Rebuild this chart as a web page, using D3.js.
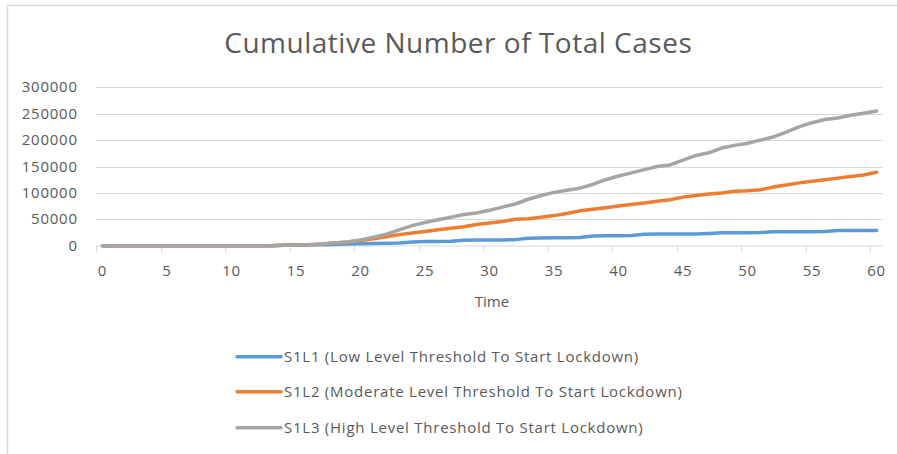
<!DOCTYPE html>
<html><head><meta charset="utf-8">
<script src="https://cdn.jsdelivr.net/npm/d3@7"></script>
<style>html,body{margin:0;padding:0;background:#fff;}svg{display:block;}</style>
</head><body><svg id="c" width="897" height="454"></svg>
<script>
const days = d3.range(0, 61);
const xTickLabels = [0,5,10,15,20,25,30,35,40,45,50,55,60];
const yTicks = [0,50000,100000,150000,200000,250000,300000];
const seriesNames = ["S1L1 (Low Level Threshold To Start Lockdown)","S1L2 (Moderate Level Threshold To Start Lockdown)","S1L3 (High Level Threshold To Start Lockdown)"];
const s1l1 = [0,0,0,0,0,0,0,0,0,0,0,0,0,0,1000,1500,2000,2000,2500,3000,3500,4000,4500,5000,7000,8000,8000,8500,10500,11000,11000,11000,11500,14000,14500,15000,15000,15500,18500,19000,19000,19500,21500,22000,22000,22000,22000,23000,24500,24500,24500,25000,26500,26500,26500,26500,27000,29000,29000,29000,29000];
const s1l2 = [0,0,0,0,0,0,0,0,0,0,0,0,0,0,1000,1500,2000,3000,5000,7000,10000,13000,17000,21000,24000,27000,30000,33000,36000,40000,43000,46000,50000,51000,54000,57000,61000,66000,69000,72000,75000,78000,81000,84000,87000,92000,95000,98000,100000,103000,104000,106000,111000,115000,119000,122000,125000,128000,131000,134000,139000];
const s1l3 = [0,0,0,0,0,0,0,0,0,0,0,0,0,0,1000,1500,2000,3000,5000,7000,11000,16000,22000,30000,38000,44000,49000,54000,59000,62000,67000,73000,79000,88000,95000,101000,105000,109000,116000,125000,132000,138000,144000,150000,153000,162000,171000,176000,185000,190000,194000,200000,206000,215000,225000,233000,239000,242000,247000,251000,255000];
const colors = ["#5B9BD5","#ED7D31","#A5A5A5"];
const allSeries = [s1l1, s1l2, s1l3];

const svg = d3.select("#c");
const font = "'Open Sans', sans-serif";
const textCol = "#595959";

function fitSpacing(sel, target) {
  const node = sel.node();
  const w = node.getComputedTextLength();
  const n = node.textContent.length;
  return (target - w) / n;
}

// frame
svg.append("line").attr("x1",7).attr("x2",897).attr("y1",5.5).attr("y2",5.5).attr("stroke","#d9d9d9").attr("stroke-width",1.5);
svg.append("line").attr("x1",7.5).attr("x2",7.5).attr("y1",5).attr("y2",454).attr("stroke","#d9d9d9").attr("stroke-width",1.5);

const x = d3.scaleBand().domain(days).range([96, 883]).paddingInner(0).paddingOuter(0);
const y = d3.scaleLinear().domain([0, 300000]).range([245.7, 87.3]);

// gridlines
svg.append("g").selectAll("line").data(yTicks.slice(1)).join("line")
  .attr("x1",96).attr("x2",883)
  .attr("y1",d=>Math.round(y(d))+0.5).attr("y2",d=>Math.round(y(d))+0.5)
  .attr("stroke","#d9d9d9").attr("stroke-width",1);

// y labels
const yl = svg.append("g").selectAll("text").data(yTicks).join("text")
  .attr("x",77).attr("y",d=>y(d)+5)
  .attr("text-anchor","end").attr("font-family",font).attr("font-size",15).attr("fill",textCol)
  .text(d=>d);
const yls = fitSpacing(yl.filter(d=>d===300000), 56);
yl.attr("letter-spacing", yls).attr("x", 77 + yls);

// x axis line
svg.append("line").attr("x1",96).attr("x2",883).attr("y1",246).attr("y2",246).attr("stroke","#d9d9d9").attr("stroke-width",1);
// tick marks
svg.append("g").selectAll("line").data(xTickLabels).join("line")
  .attr("x1",d=>Math.round(x(d))+0.5).attr("x2",d=>Math.round(x(d))+0.5)
  .attr("y1",246).attr("y2",252).attr("stroke","#d9d9d9");
// x labels
svg.append("g").selectAll("text").data(xTickLabels).join("text")
  .attr("x",d=>x(d)+x.bandwidth()/2).attr("y",276)
  .attr("text-anchor","middle").attr("font-family",font).attr("font-size",15).attr("fill",textCol)
  .attr("letter-spacing", yls)
  .text(d=>d);

// axis title
svg.append("text").attr("x",492).attr("y",307).attr("text-anchor","middle")
  .attr("font-family",font).attr("font-size",15).attr("fill",textCol).text("Time");

// title
const tt = svg.append("text").attr("x",458).attr("y",53).attr("text-anchor","middle")
  .attr("font-family",font).attr("font-size",28).attr("fill",textCol).text("Cumulative Number of Total Cases");
const tls = fitSpacing(tt, 468);
tt.attr("letter-spacing", tls).attr("x", 458 + tls/2);

// lines
const line = d3.line().x((d,i)=>x(days[i])+x.bandwidth()/2).y(d=>y(d));
svg.append("g").selectAll("path").data(allSeries).join("path")
  .attr("d",line).attr("fill","none")
  .attr("stroke",(d,i)=>colors[i]).attr("stroke-width",3.5)
  .attr("stroke-linejoin","round").attr("stroke-linecap","round");

// legend
const legY = [356.7, 391.7, 427.7];
const lg = svg.append("g").selectAll("g").data(seriesNames).join("g");
lg.append("line").attr("x1",237).attr("x2",281).attr("y1",(d,i)=>legY[i]).attr("y2",(d,i)=>legY[i])
  .attr("stroke",(d,i)=>colors[i]).attr("stroke-width",3.5).attr("stroke-linecap","round");
const lt = lg.append("text").attr("x",284).attr("y",(d,i)=>legY[i]+5)
  .attr("font-family",font).attr("font-size",15).attr("fill",textCol).text(d=>d);
const lls = fitSpacing(lt.filter((d,i)=>i===0), 355);
lt.attr("letter-spacing", lls);
</script></body></html>
